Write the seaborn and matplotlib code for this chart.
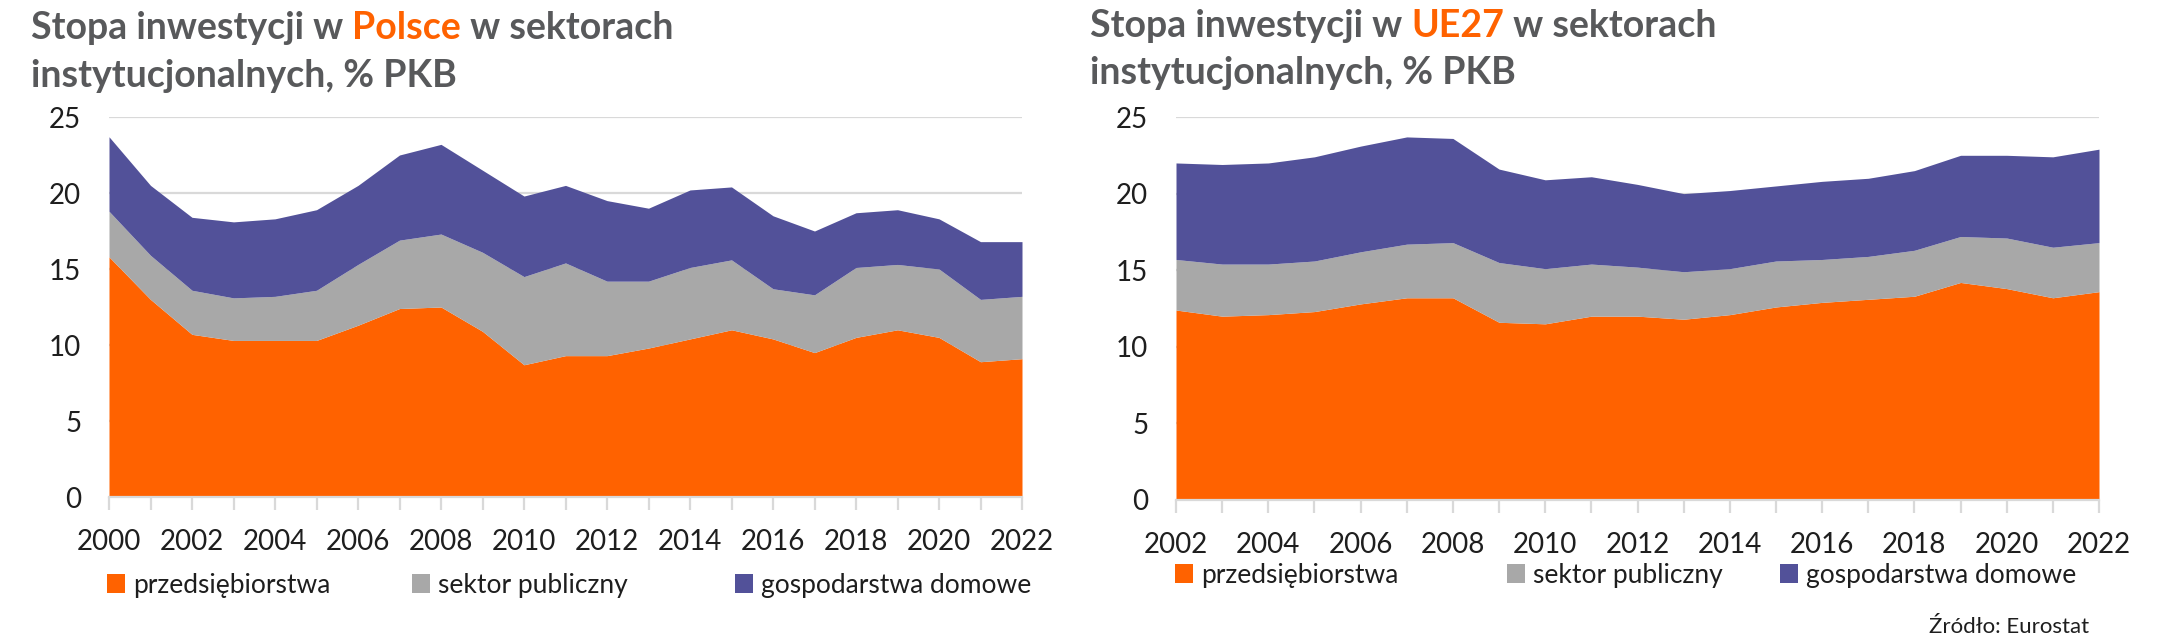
import matplotlib
matplotlib.use("Agg")
import matplotlib.pyplot as plt
from matplotlib.ticker import MultipleLocator
import seaborn as sns

# --- data (% PKB) ---
years_pl = list(range(2000, 2023))
pl_przedsiebiorstwa = [15.8, 13.0, 10.7, 10.3, 10.3, 10.3, 11.3, 12.4, 12.5, 10.9, 8.7, 9.3,
                       9.3, 9.8, 10.4, 11.0, 10.4, 9.5, 10.5, 11.0, 10.5, 8.9, 9.1]
pl_publiczny = [3.0, 2.9, 2.9, 2.8, 2.9, 3.3, 4.0, 4.5, 4.8, 5.2, 5.8, 6.1,
                4.9, 4.4, 4.7, 4.6, 3.3, 3.8, 4.6, 4.3, 4.5, 4.1, 4.1]
pl_domowe = [4.9, 4.6, 4.8, 5.0, 5.1, 5.3, 5.2, 5.6, 5.9, 5.4, 5.3, 5.1,
             5.3, 4.8, 5.1, 4.8, 4.8, 4.2, 3.6, 3.6, 3.3, 3.8, 3.6]

years_eu = list(range(2002, 2023))
eu_przedsiebiorstwa = [12.4, 12.0, 12.1, 12.3, 12.8, 13.2, 13.2, 11.6, 11.5, 12.0, 12.0,
                       11.8, 12.1, 12.6, 12.9, 13.1, 13.3, 14.2, 13.8, 13.2, 13.6]
eu_publiczny = [3.3, 3.4, 3.3, 3.3, 3.4, 3.5, 3.6, 3.9, 3.6, 3.4, 3.2,
                3.1, 3.0, 3.0, 2.8, 2.8, 3.0, 3.0, 3.3, 3.3, 3.2]
eu_domowe = [6.3, 6.5, 6.6, 6.8, 6.9, 7.0, 6.8, 6.1, 5.8, 5.7, 5.4,
             5.1, 5.1, 4.9, 5.1, 5.1, 5.2, 5.3, 5.4, 5.9, 6.1]

series_labels = ["przedsiębiorstwa", "sektor publiczny", "gospodarstwa domowe"]
colors = ["#FF6200", "#A8A8A8", "#525199"]
orange = "#FF6200"
title_grey = "#58595B"
text_col = "#1E1E1E"

sns.set_theme(style="white")
plt.rcParams["font.family"] = ["Lato", "DejaVu Sans"]

W, H = 2165, 643
fig = plt.figure(figsize=(W / 100, H / 100), dpi=100)


def px(x, y):
    return x / W, 1 - y / H


def style_axis(ax, x0, x1):
    ax.set_xlim(x0, x1)
    ax.set_ylim(0, 25)
    ax.xaxis.set_major_locator(MultipleLocator(2))
    ax.xaxis.set_minor_locator(MultipleLocator(1))
    ax.yaxis.set_major_locator(MultipleLocator(5))
    ax.grid(axis="y", color="#D9D9D9", linewidth=1.6)
    ax.set_axisbelow(True)
    for s in ["top", "right", "left"]:
        ax.spines[s].set_visible(False)
    ax.spines["bottom"].set_color("#D9D9D9")
    ax.spines["bottom"].set_linewidth(1.6)
    ax.tick_params(axis="x", which="both", bottom=True, length=9, width=1.6,
                   color="#D9D9D9", labelsize=20, labelcolor=text_col, pad=14)
    ax.tick_params(axis="y", left=False, length=0, labelsize=20,
                   labelcolor=text_col, pad=20)


def title_block(ax, x, y1, y2, region):
    kw = dict(fontsize=27, fontweight="bold", ha="left")
    t = fig.text(*px(x, y1), "Stopa inwestycji w ", color=title_grey,
                 va="baseline", **kw)
    t2 = ax.annotate(region, xy=(1, 0), xycoords=t, color=orange, va="bottom",
                     annotation_clip=False, **kw)
    ax.annotate(" w sektorach", xy=(1, 0), xycoords=t2, color=title_grey,
                va="bottom", annotation_clip=False, **kw)
    fig.text(*px(x, y2), "instytucjonalnych, % PKB", color=title_grey,
             va="baseline", **kw)


def legend_row(handles, xs, y):
    for h, lab, x in zip(handles, series_labels, xs):
        fig.legend([h], [lab], loc="center left", bbox_to_anchor=px(x, y),
                   frameon=False, fontsize=19, handlelength=0.7, handleheight=0.7,
                   handletextpad=0.3, borderpad=0, borderaxespad=0,
                   labelcolor=text_col)


# left: Polska
ax1 = fig.add_axes([109 / W, 1 - 497 / H, (1022 - 109) / W, (497 - 117) / H])
polys1 = ax1.stackplot(years_pl, pl_przedsiebiorstwa, pl_publiczny, pl_domowe,
                       colors=colors, linewidth=0)
style_axis(ax1, 2000, 2022)

# right: UE27
ax2 = fig.add_axes([1176 / W, 1 - 500 / H, (2099 - 1176) / W, (500 - 117) / H])
polys2 = ax2.stackplot(years_eu, eu_przedsiebiorstwa, eu_publiczny, eu_domowe,
                       colors=colors, linewidth=0)
style_axis(ax2, 2002, 2022)

title_block(ax1, 31, 39, 87, "Polsce")
title_block(ax2, 1090, 37, 84, "UE27")

legend_row(polys1, [107, 412, 735], 585)
legend_row(polys2, [1175, 1507, 1780], 575)

fig.text(*px(2089, 627), "Źródło: Eurostat", fontsize=16, color=text_col,
         ha="right", va="center")

fig.savefig("out.png", dpi=100)
